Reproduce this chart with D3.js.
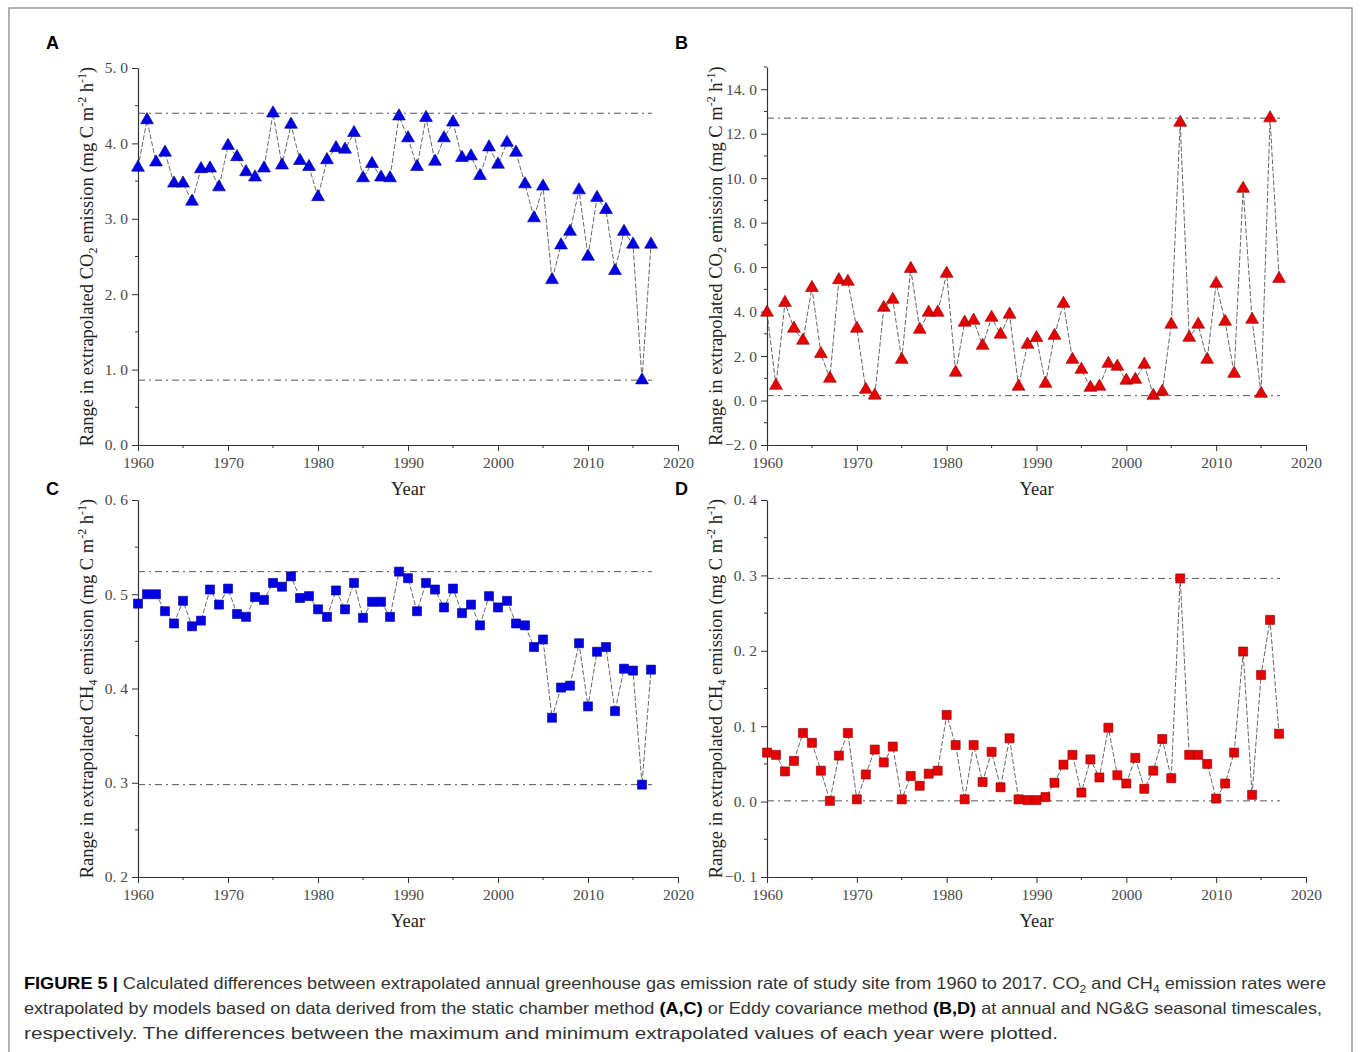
<!DOCTYPE html>
<html>
<head>
<meta charset="utf-8">
<script src="https://cdn.jsdelivr.net/npm/d3@7/dist/d3.min.js"></script>
<style>
  body { margin: 0; background: #fff; }
  svg { display: block; }
  .tick-label { font-family: "Liberation Serif", "DejaVu Serif", serif; font-size: 15.5px; fill: #4a4a4a; }
  .axis-title { font-family: "Liberation Serif", "DejaVu Serif", serif; font-size: 18.5px; fill: #222; }
  .panel-letter { font-family: "Liberation Sans", Arial, sans-serif; font-size: 18px; font-weight: bold; fill: #000; }
  .caption { font-family: "Liberation Sans", Arial, sans-serif; font-size: 16.5px; fill: #333; }
</style>
</head>
<body>
<svg id="chart" width="1360" height="1052"></svg>
<script>
// years 1960-2017
const years = d3.range(1960, 2018);

// A: CO2, static chamber
const co2Chamber = [3.68, 4.31, 3.75, 3.88, 3.47, 3.47, 3.23, 3.66, 3.67, 3.42,
  3.97, 3.82, 3.62, 3.55, 3.67, 4.40, 3.71, 4.25, 3.77, 3.69,
  3.29, 3.78, 3.94, 3.92, 4.14, 3.54, 3.73, 3.55, 3.54, 4.36,
  4.07, 3.69, 4.34, 3.76, 4.07, 4.28, 3.81, 3.83, 3.57, 3.95,
  3.72, 4.01, 3.88, 3.46, 3.01, 3.43, 2.19, 2.65, 2.83, 3.38,
  2.50, 3.28, 3.12, 2.31, 2.83, 2.66, 0.86, 2.66];

// B: CO2, eddy covariance
const co2Eddy = [3.96, 0.67, 4.40, 3.24, 2.70, 5.07, 2.10, 0.99, 5.42, 5.35,
  3.24, 0.49, 0.23, 4.18, 4.54, 1.84, 5.93, 3.19, 3.96, 3.96,
  5.71, 1.26, 3.51, 3.60, 2.47, 3.73, 2.97, 3.87, 0.63, 2.52,
  2.82, 0.76, 2.92, 4.36, 1.84, 1.39, 0.58, 0.63, 1.66, 1.53,
  0.90, 0.94, 1.62, 0.22, 0.40, 3.42, 12.50, 2.83, 3.42, 1.84,
  5.26, 3.55, 1.21, 9.53, 3.64, 0.31, 12.70, 5.48];

// C: CH4, static chamber
const ch4Chamber = [0.490, 0.500, 0.500, 0.482, 0.469, 0.493, 0.466, 0.472, 0.505, 0.489,
  0.506, 0.479, 0.476, 0.497, 0.494, 0.512, 0.508, 0.519, 0.496, 0.498,
  0.484, 0.476, 0.504, 0.484, 0.512, 0.475, 0.492, 0.492, 0.476, 0.524,
  0.517, 0.482, 0.512, 0.505, 0.486, 0.506, 0.480, 0.489, 0.467, 0.498,
  0.486, 0.493, 0.469, 0.467, 0.444, 0.452, 0.369, 0.401, 0.403, 0.448,
  0.381, 0.439, 0.444, 0.376, 0.421, 0.419, 0.298, 0.420];

// D: CH4, eddy covariance
const ch4Eddy = [0.065, 0.062, 0.040, 0.054, 0.091, 0.078, 0.041, 0.001, 0.061, 0.091,
  0.003, 0.036, 0.069, 0.052, 0.073, 0.003, 0.034, 0.021, 0.037, 0.041,
  0.115, 0.075, 0.003, 0.075, 0.026, 0.066, 0.019, 0.084, 0.003, 0.002,
  0.002, 0.006, 0.025, 0.049, 0.062, 0.012, 0.056, 0.032, 0.098, 0.035,
  0.024, 0.058, 0.017, 0.041, 0.083, 0.031, 0.296, 0.062, 0.062, 0.050,
  0.004, 0.024, 0.065, 0.199, 0.009, 0.168, 0.241, 0.090];

const xDomain = [1960, 2020];
const xMajorTicks = [1960, 1970, 1980, 1990, 2000, 2010, 2020];
const xMinorTicks = [1965, 1975, 1985, 1995, 2005, 2015];

const yDomainA = [0, 5], yTicksA = [0, 1, 2, 3, 4, 5];
const yDomainB = [-2, 15], yTicksB = [-2, 0, 2, 4, 6, 8, 10, 12, 14];
const yDomainC = [0.2, 0.6], yTicksC = [0.2, 0.3, 0.4, 0.5, 0.6];
const yDomainD = [-0.1, 0.4], yTicksD = [-0.1, 0, 0.1, 0.2, 0.3, 0.4];

const panelLetters = ['A', 'B', 'C', 'D'];
const gasNames = ['CO', 'CO', 'CH', 'CH'];
const gasSubs = ['2', '2', '4', '4'];

const svg = d3.select('#chart');

// outer frame
svg.append('rect').attr('x', 9).attr('y', 8).attr('width', 1343).attr('height', 1060)
  .attr('fill', 'none').attr('stroke', '#8a8a8a').attr('stroke-width', 1.3);

const panels = [
  { values: co2Chamber, domain: yDomainA, ticks: yTicksA, minorStep: 0.5, x0: 138, x1: 678, top: 68, bottom: 445, letterY: 49, color: '#0000e6', edge: '#00008a', shape: d3.symbolTriangle, size: 72 },
  { values: co2Eddy, domain: yDomainB, ticks: yTicksB, minorStep: 1, x0: 767, x1: 1306, top: 67, bottom: 445, letterY: 49, color: '#e60000', edge: '#8a0000', shape: d3.symbolTriangle, size: 72 },
  { values: ch4Chamber, domain: yDomainC, ticks: yTicksC, minorStep: 0.05, x0: 138, x1: 678, top: 500, bottom: 877, letterY: 495, color: '#0000e6', edge: '#00008a', shape: d3.symbolSquare, size: 82 },
  { values: ch4Eddy, domain: yDomainD, ticks: yTicksD, minorStep: 0.05, x0: 767, x1: 1306, top: 500, bottom: 877, letterY: 495, color: '#e60000', edge: '#8a0000', shape: d3.symbolSquare, size: 82 }
];

const fmt = d3.format('.1f');

panels.forEach(function (p, i) {
  let x = d3.scaleLinear().domain(xDomain).range([p.x0, p.x1]);
  let y = d3.scaleLinear().domain(p.domain).range([p.bottom, p.top]);
  let g = svg.append('g').attr('class', 'panel');

  // y minor ticks
  let minor = d3.range(p.domain[0], p.domain[1] + 1e-9, p.minorStep)
    .filter(v => !p.ticks.some(t => Math.abs(t - v) < 1e-9));

  // x axis
  let xAxis = g.append('g').attr('transform', `translate(0,${p.bottom})`)
    .call(d3.axisBottom(x).tickValues(xMajorTicks).tickFormat(d3.format('d')).tickSize(6).tickSizeOuter(0));
  xAxis.select('.domain').attr('stroke', '#333').attr('stroke-width', 1.2);
  xAxis.selectAll('.tick line').attr('stroke', '#333');
  xAxis.selectAll('.tick text').attr('class', 'tick-label').attr('dy', '0.9em').attr('fill', null);
  xAxis.selectAll('.minor').data(xMinorTicks).enter().append('line')
    .attr('x1', d => x(d)).attr('x2', d => x(d)).attr('y1', 0).attr('y2', 3).attr('stroke', '#333');

  // y axis
  let yAxis = g.append('g').attr('transform', `translate(${p.x0},0)`)
    .call(d3.axisLeft(y).tickValues(p.ticks).tickFormat(d => fmt(d).replace('.', '. ')).tickSize(6).tickSizeOuter(0));
  yAxis.select('.domain').attr('stroke', '#333').attr('stroke-width', 1.2);
  yAxis.selectAll('.tick line').attr('stroke', '#333');
  yAxis.selectAll('.tick text').attr('class', 'tick-label').attr('x', -10).attr('fill', null);
  yAxis.selectAll('.minor').data(minor).enter().append('line')
    .attr('x1', -3).attr('x2', 0).attr('y1', d => y(d)).attr('y2', d => y(d)).attr('stroke', '#333');
  yAxis.attr('font-family', null).attr('font-size', null);
  xAxis.attr('font-family', null).attr('font-size', null);

  // reference lines at max and min
  let ext = d3.extent(p.values);
  g.selectAll('.ref').data(ext).enter().append('line')
    .attr('x1', x(years[0])).attr('x2', x(years[years.length - 1]) + 1)
    .attr('y1', d => y(d)).attr('y2', d => y(d))
    .attr('stroke', '#555').attr('stroke-width', 1).attr('stroke-dasharray', '7 4 2 4');

  // connecting line
  let pts = years.map((yr, k) => [yr, p.values[k]]);
  g.append('path').datum(pts)
    .attr('d', d3.line().x(d => x(d[0])).y(d => y(d[1])))
    .attr('fill', 'none').attr('stroke', '#555').attr('stroke-width', 0.9)
    .attr('stroke-dasharray', '5 2');

  // markers
  g.selectAll('.mk').data(pts).enter().append('path')
    .attr('transform', d => `translate(${x(d[0])},${y(d[1])})`)
    .attr('d', d3.symbol().type(p.shape).size(p.size))
    .attr('fill', p.color).attr('stroke', p.edge).attr('stroke-width', 0.6);

  // axis titles
  g.append('text').attr('class', 'axis-title').attr('text-anchor', 'middle')
    .attr('x', (p.x0 + p.x1) / 2).attr('y', p.bottom + 50).text('Year');

  let cy = (p.top + p.bottom) / 2;
  let lbl = g.append('text').attr('class', 'axis-title').attr('text-anchor', 'middle')
    .attr('transform', `translate(${p.x0 - 45},${cy}) rotate(-90)`);
  lbl.append('tspan').text('Range in extrapolated ' + gasNames[i]);
  lbl.append('tspan').attr('font-size', 12).attr('dy', 4).text(gasSubs[i]);
  lbl.append('tspan').attr('dy', -4).text(' emission (mg C m');
  lbl.append('tspan').attr('font-size', 12).attr('dy', -7).text('-2');
  lbl.append('tspan').attr('dy', 7).text(' h');
  lbl.append('tspan').attr('font-size', 12).attr('dy', -7).text('-1');
  lbl.append('tspan').attr('dy', 7).text(')');

  // panel letter
  g.append('text').attr('class', 'panel-letter')
    .attr('x', p.x0 - 92).attr('y', p.letterY).text(panelLetters[i]);
});

// caption
const captionLines = [
  [['b', 'FIGURE 5 | '], ['n', 'Calculated differences between extrapolated annual greenhouse gas emission rate of study site from 1960 to 2017. CO'], ['s', '2'], ['n', ' and CH'], ['s', '4'], ['n', ' emission rates were']],
  [['n', 'extrapolated by models based on data derived from the static chamber method '], ['b', '(A,C)'], ['n', ' or Eddy covariance method '], ['b', '(B,D)'], ['n', ' at annual and NG&G seasonal timescales,']],
  [['n', 'respectively. The differences between the maximum and minimum extrapolated values of each year were plotted.']]
];
const captionWidths = [1302, 1298, 1034];

captionLines.forEach(function (parts, i) {
  let t = svg.append('text').attr('class', 'caption').attr('x', 24).attr('y', 989 + i * 25);
  parts.forEach(function (pt, k) {
    let s = t.append('tspan').text(pt[1]);
    if (pt[0] === 'b') s.attr('font-weight', 'bold').attr('fill', '#000');
    if (pt[0] === 's') s.attr('font-size', 11).attr('dy', 4);
    if (pt[0] === 'n' && k > 0 && parts[k - 1][0] === 's') s.attr('dy', -4);
  });
  t.attr('textLength', captionWidths[i]).attr('lengthAdjust', 'spacingAndGlyphs');
});
</script>
</body>
</html>
